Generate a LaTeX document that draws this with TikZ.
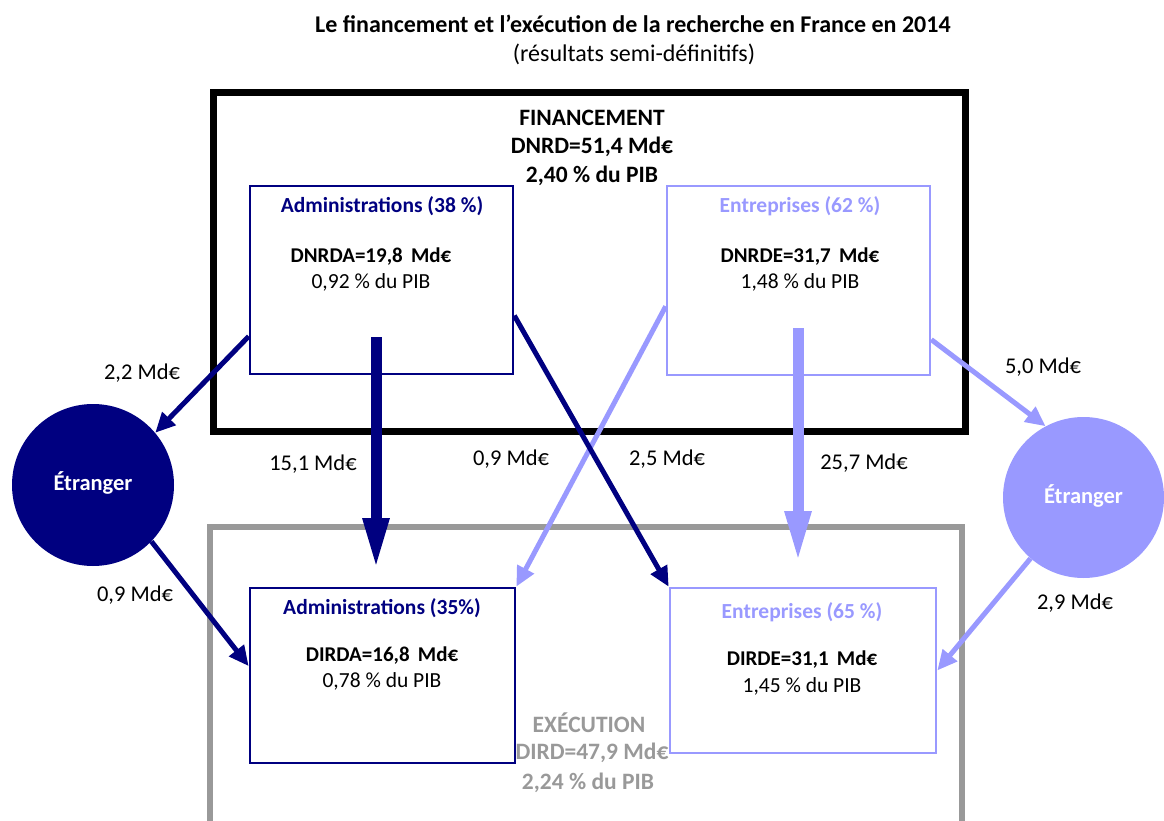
\documentclass[tikz,border=0pt]{standalone}
\usepackage{fontspec}
\setmainfont{Carlito}
\usetikzlibrary{arrows.meta}
\definecolor{navy}{HTML}{000080}
\definecolor{lblue}{HTML}{9999FF}
\definecolor{gris}{HTML}{999999}
\begin{document}
\begin{tikzpicture}[x=1pt,y=-1pt,
  frame/.style={draw=#1, line width=2.6pt, inner sep=0pt},
  disc/.style={circle, fill=#1, draw=none, inner sep=0pt, minimum size=162pt, text=white, font=\fontsize{22.5}{26}\selectfont\bfseries},
  head/.style={inner sep=0pt, text=#1, font=\fontsize{21.5}{25}\selectfont\bfseries},
  val/.style={inner sep=0pt, font=\fontsize{21}{25}\selectfont\bfseries},
  pct/.style={inner sep=0pt, font=\fontsize{21.5}{25}\selectfont},
  big/.style={inner sep=0pt, text=#1, font=\fontsize{23.5}{27}\selectfont\bfseries},
  amount/.style={inner sep=0pt, font=\fontsize{22.5}{26}\selectfont},
  thinarrow/.style={draw=#1, line width=5pt, -{Triangle[width=18pt,length=20pt]}},
  thickarrow/.style={draw=#1, line width=11pt, -{Triangle[width=24pt,length=52pt]}}
]
\useasboundingbox (0,0) rectangle (1164,821);
% title
\node[inner sep=0pt, font=\fontsize{24}{28}\selectfont\bfseries] (title) at (633,24) {Le financement et l'exécution de la recherche en France en 2014};
\node[inner sep=0pt, font=\fontsize{24}{28}\selectfont] (subtitle) at (634,54) {(résultats semi-définitifs)};
% big frames
\node[draw=black, line width=7pt, inner sep=0pt, minimum width=752pt, minimum height=338pt] (fin) at (589,262) {};
\draw[gris, line width=6pt] (210,821) -- (210,527) -- (962,527) -- (962,821);
% financement text
\node[big=black] (finA) at (592,118) {FINANCEMENT};
\node[big=black] (finB) at (592,147) {DNRD=51,4 Md€};
\node[big=black] (finC) at (592,176) {2,40 \% du PIB};
% execution text
\node[big=gris] (exeA) at (589,723) {EXÉCUTION};
\node[big=gris] (exeB) at (592,753) {DIRD=47,9 Md€};
\node[big=gris] (exeC) at (588,783) {2,24 \% du PIB};
% boxes
\node[frame=navy, minimum width=263pt, minimum height=188pt] (aT) at (381.5,280) {};
\node[frame=lblue, minimum width=263pt, minimum height=189pt] (eT) at (798.5,280.5) {};
\node[frame=navy, minimum width=265pt, minimum height=175pt] (aB) at (382.5,675.5) {};
\node[frame=lblue, minimum width=266pt, minimum height=165pt] (eB) at (803,670.5) {};
% box texts
\node[head=navy] (aTh) at (382,206) {Administrations (38 \%)};
\node[val] (aTv) at (371,257) {DNRDA=19,8\, Md€};
\node[pct] (aTp) at (371,282) {0,92 \% du PIB};
\node[head=lblue] (eTh) at (800,206) {Entreprises (62 \%)};
\node[val] (eTv) at (800,257) {DNRDE=31,7\, Md€};
\node[pct] (eTp) at (800,282) {1,48 \% du PIB};
\node[head=navy] (aBh) at (382,608) {Administrations (35\%)};
\node[val] (aBv) at (382,656) {DIRDA=16,8\, Md€};
\node[pct] (aBp) at (382,681) {0,78 \% du PIB};
\node[head=lblue] (eBh) at (802,612) {Entreprises (65 \%)};
\node[val] (eBv) at (802,660) {DIRDE=31,1\, Md€};
\node[pct] (eBp) at (802,686) {1,45 \% du PIB};
% foreign circles
\node[disc=navy] (eL) at (93,485) {\raisebox{7pt}{Étranger}};
\node[disc=lblue, minimum size=161pt] (eR) at (1083.5,497.5) {\raisebox{7pt}{Étranger}};
% arrows
\coordinate (s15) at (376,337);
\coordinate (t15) at (376,570);
\coordinate (s25) at (798,328);
\coordinate (t25) at (798,563);
\draw[thickarrow=navy] (s15) -- (t15);
\draw[thickarrow=lblue] (s25) -- (t25);
\draw[thinarrow=navy] (aT.203.5) -- (eL.40.5);
\draw[thinarrow=navy] (eL.-44.5) -- (aB.176.8);
\draw[thinarrow=lblue] (eT.191.5) -- (aB.north east);
\draw[thinarrow=navy] (aT.-15.6) -- (eB.north west);
\draw[thinarrow=lblue] (eT.-24.7) -- (eR.118);
\draw[thinarrow=lblue] (eR.229) -- (eB.-0.7);
% amounts
\node[amount] (m1) at (142,373) {2,2 Md€};
\node[amount] (m2) at (313,464) {15,1 Md€};
\node[amount] (m3) at (511,459) {0,9 Md€};
\node[amount] (m4) at (667,459) {2,5 Md€};
\node[amount] (m5) at (864,463) {25,7 Md€};
\node[amount] (m6) at (1043,367) {5,0 Md€};
\node[amount] (m7) at (135,595) {0,9 Md€};
\node[amount] (m8) at (1075,603) {2,9 Md€};
\end{tikzpicture}
\end{document}
